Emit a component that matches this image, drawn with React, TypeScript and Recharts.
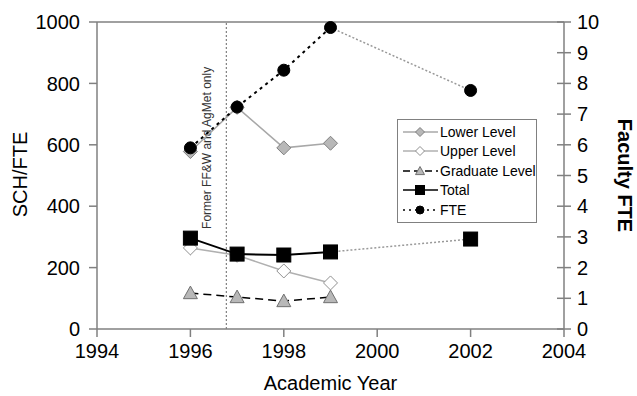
import React from 'react';
import {
  LineChart,
  Line,
  XAxis,
  YAxis,
  ReferenceLine,
  Legend,
  Label,
} from 'recharts';

const years = [1996, 1997, 1998, 1999, 2002];
const lowerLevel = [578, 722, 590, 605, null];
const upperLevel = [264, 240, 189, 150, null];
const graduateLevel = [117, 104, 91, 104, null];
const total = [296, 244, 241, 251, 293];
const fte = [5.9, 7.23, 8.43, 9.82, 7.77];

const xTicks = [1994, 1996, 1998, 2000, 2002, 2004];
const leftTicks = [0, 200, 400, 600, 800, 1000];
const rightTicks = [0, 1, 2, 3, 4, 5, 6, 7, 8, 9, 10];
const dividerYear = 1996.77;
const dividerText = 'Former FF&W and AgMet only';

const lastEarly = 3; // index of 1999, last point of the continuous run

const data = years.map((year, i) => ({
  year,
  lower: lowerLevel[i],
  upper: upperLevel[i],
  graduate: graduateLevel[i],
  total: i <= lastEarly ? total[i] : null,
  totalGap: i >= lastEarly ? total[i] : null,
  fte: i <= lastEarly ? fte[i] : null,
  fteGap: i >= lastEarly ? fte[i] : null,
}));

const FONT = '"Liberation Sans", Arial, sans-serif';
const AXIS = '#808080';

type Shape = 'diamond' | 'triangle' | 'square' | 'circle';

function marker(shape: Shape, cx: number, cy: number, s: number, fill: string, stroke: string, key?: string) {
  if (shape === 'diamond') {
    return (
      <polygon key={key} points={`${cx},${cy - s} ${cx + s},${cy} ${cx},${cy + s} ${cx - s},${cy}`} fill={fill} stroke={stroke} strokeWidth={1} />
    );
  }
  if (shape === 'triangle') {
    return (
      <polygon key={key} points={`${cx},${cy - s} ${cx + s},${cy + s * 0.8} ${cx - s},${cy + s * 0.8}`} fill={fill} stroke={stroke} strokeWidth={1} />
    );
  }
  if (shape === 'square') {
    return <rect key={key} x={cx - s} y={cy - s} width={s * 2} height={s * 2} fill={fill} stroke={stroke} strokeWidth={1} />;
  }
  return <circle key={key} cx={cx} cy={cy} r={s} fill={fill} stroke={stroke} strokeWidth={1} />;
}

const makeDot = (shape: Shape, s: number, fill: string, stroke: string, onlyYear?: number) =>
  (props: any) => {
    const { cx, cy, payload, index } = props;
    const k = `${shape}-${index}`;
    if (cx == null || cy == null || (onlyYear != null && payload.year !== onlyYear)) return <g key={k} />;
    return marker(shape, cx, cy, s, fill, stroke, k);
  };

const legendItems = [
  { name: 'Lower Level', shape: 'diamond' as Shape, fill: '#b8b8b8', mstroke: '#808080', line: '#a8a8a8', dash: undefined },
  { name: 'Upper Level', shape: 'diamond' as Shape, fill: '#ffffff', mstroke: '#909090', line: '#b0b0b0', dash: undefined },
  { name: 'Graduate Level', shape: 'triangle' as Shape, fill: '#b8b8b8', mstroke: '#707070', line: '#000000', dash: '7 4' },
  { name: 'Total', shape: 'square' as Shape, fill: '#000000', mstroke: '#000000', line: '#000000', dash: undefined },
  { name: 'FTE', shape: 'circle' as Shape, fill: '#000000', mstroke: '#000000', line: '#000000', dash: '2 4' },
];

function LegendBox() {
  return (
    <div
      style={{
        border: `1px solid ${AXIS}`,
        background: '#fff',
        width: 140,
        padding: '2px 0',
        fontFamily: FONT,
        fontSize: 14,
        color: '#000',
        boxSizing: 'border-box',
      }}
    >
      {legendItems.map((it) => (
        <div key={it.name} style={{ display: 'flex', alignItems: 'center', height: 19.5 }}>
          <svg width={42} height={20} style={{ flex: 'none' }}>
            <line x1={5} y1={10} x2={40} y2={10} stroke={it.line} strokeWidth={1.5} strokeDasharray={it.dash} />
            {marker(it.shape, 22, 10, it.shape === 'circle' ? 4 : 4.5, it.fill, it.mstroke)}
          </svg>
          <span style={{ whiteSpace: 'nowrap' }}>{it.name}</span>
        </div>
      ))}
    </div>
  );
}

function RightTick(props: any) {
  const { x, y, payload } = props;
  return (
    <g>
      <line x1={x - 7} y1={y} x2={x + 7} y2={y} stroke={AXIS} strokeWidth={1.5} />
      <text x={x + 13} y={y} dy={7} fontSize={20} fontFamily={FONT} fill="#000">
        {payload.value}
      </text>
    </g>
  );
}

export default function App() {
  const tick = { fontSize: 20, fill: '#000', fontFamily: FONT };
  return (
    <div style={{ position: 'absolute', left: 0, top: 0, background: '#fff' }}>
      <LineChart width={637} height={396} data={data} margin={{ top: 22, right: 0, bottom: 0, left: 0 }}>
        <XAxis
          dataKey="year"
          type="number"
          domain={[1994, 2004]}
          ticks={xTicks}
          height={67}
          tick={tick}
          tickSize={8}
          tickMargin={7}
          stroke={AXIS}
          strokeWidth={1.5}
        >
          <Label
            content={(p: any) => {
              const vb = p.viewBox;
              return (
                <text x={vb.x + vb.width / 2} y={vb.y + 61} textAnchor="middle" fontSize={20} fontFamily={FONT} fill="#000">
                  Academic Year
                </text>
              );
            }}
          />
        </XAxis>
        <YAxis
          yAxisId="left"
          domain={[0, 1000]}
          ticks={leftTicks}
          width={97}
          tick={tick}
          tickSize={8}
          tickMargin={9}
          stroke={AXIS}
          strokeWidth={1.5}
        >
          <Label
            content={(p: any) => {
              const vb = p.viewBox;
              const cx = vb.x + 20;
              const cy = vb.y + vb.height / 2 - 1;
              return (
                <text x={cx} y={cy} transform={`rotate(-90 ${cx} ${cy})`} textAnchor="middle" dominantBaseline="central" fontSize={20} fontFamily={FONT} fill="#000">
                  SCH/FTE
                </text>
              );
            }}
          />
        </YAxis>
        <YAxis
          yAxisId="right"
          orientation="right"
          domain={[0, 10]}
          ticks={rightTicks}
          width={73}
          tick={<RightTick />}
          tickLine={false}
          tickSize={0}
          tickMargin={0}
          stroke={AXIS}
          strokeWidth={1.5}
          interval={0}
        >
          <Label
            content={(p: any) => {
              const vb = p.viewBox;
              const cx = vb.x + 61;
              const cy = vb.y + vb.height / 2;
              return (
                <text x={cx} y={cy} transform={`rotate(90 ${cx} ${cy})`} textAnchor="middle" dominantBaseline="central" fontSize={20} fontWeight="bold" fontFamily={FONT} fill="#000">
                  Faculty FTE
                </text>
              );
            }}
          />
        </YAxis>
        <ReferenceLine yAxisId="left" y={1000} stroke={AXIS} strokeWidth={1.5} />
        <ReferenceLine
          yAxisId="left"
          x={dividerYear}
          stroke="#808080"
          strokeWidth={1.2}
          strokeDasharray="2 2"
          label={(p: any) => {
            const vb = p.viewBox;
            const cx = vb.x - 19;
            const cy = vb.y + vb.height * 0.41;
            return (
              <text x={cx} y={cy} transform={`rotate(-90 ${cx} ${cy})`} textAnchor="middle" dominantBaseline="central" fontSize={12} fontFamily={FONT} fill="#333">
                {dividerText}
              </text>
            );
          }}
        />
        <Line
          yAxisId="left"
          dataKey="lower"
          stroke="#a8a8a8"
          strokeWidth={1.5}
          dot={makeDot('diamond', 7, '#b8b8b8', '#808080')}
          isAnimationActive={false}
        />
        <Line
          yAxisId="left"
          dataKey="upper"
          stroke="#b0b0b0"
          strokeWidth={1.5}
          dot={makeDot('diamond', 7, '#ffffff', '#909090')}
          isAnimationActive={false}
        />
        <Line
          yAxisId="left"
          dataKey="graduate"
          stroke="#000"
          strokeWidth={1.5}
          strokeDasharray="8 5"
          dot={makeDot('triangle', 7, '#b8b8b8', '#707070')}
          isAnimationActive={false}
        />
        <Line
          yAxisId="left"
          dataKey="total"
          stroke="#000"
          strokeWidth={2}
          dot={makeDot('square', 7, '#000', '#000')}
          isAnimationActive={false}
        />
        <Line
          yAxisId="right"
          dataKey="fte"
          stroke="#000"
          strokeWidth={2}
          strokeDasharray="3 4"
          dot={makeDot('circle', 6, '#000', '#000')}
          isAnimationActive={false}
        />
        <Line
          yAxisId="left"
          dataKey="totalGap"
          stroke="#999"
          strokeWidth={1.5}
          strokeDasharray="2 2"
          connectNulls
          legendType="none"
          dot={makeDot('square', 7, '#000', '#000', 2002)}
          isAnimationActive={false}
        />
        <Line
          yAxisId="right"
          dataKey="fteGap"
          stroke="#999"
          strokeWidth={1.5}
          strokeDasharray="2 2"
          connectNulls
          legendType="none"
          dot={makeDot('circle', 6, '#000', '#000', 2002)}
          isAnimationActive={false}
        />
        <Legend
          layout="vertical"
          align="center"
          verticalAlign="middle"
          content={() => <LegendBox />}
          wrapperStyle={{ position: 'absolute', left: 397, top: 119, width: 142, height: 101 }}
        />
      </LineChart>
    </div>
  );
}
